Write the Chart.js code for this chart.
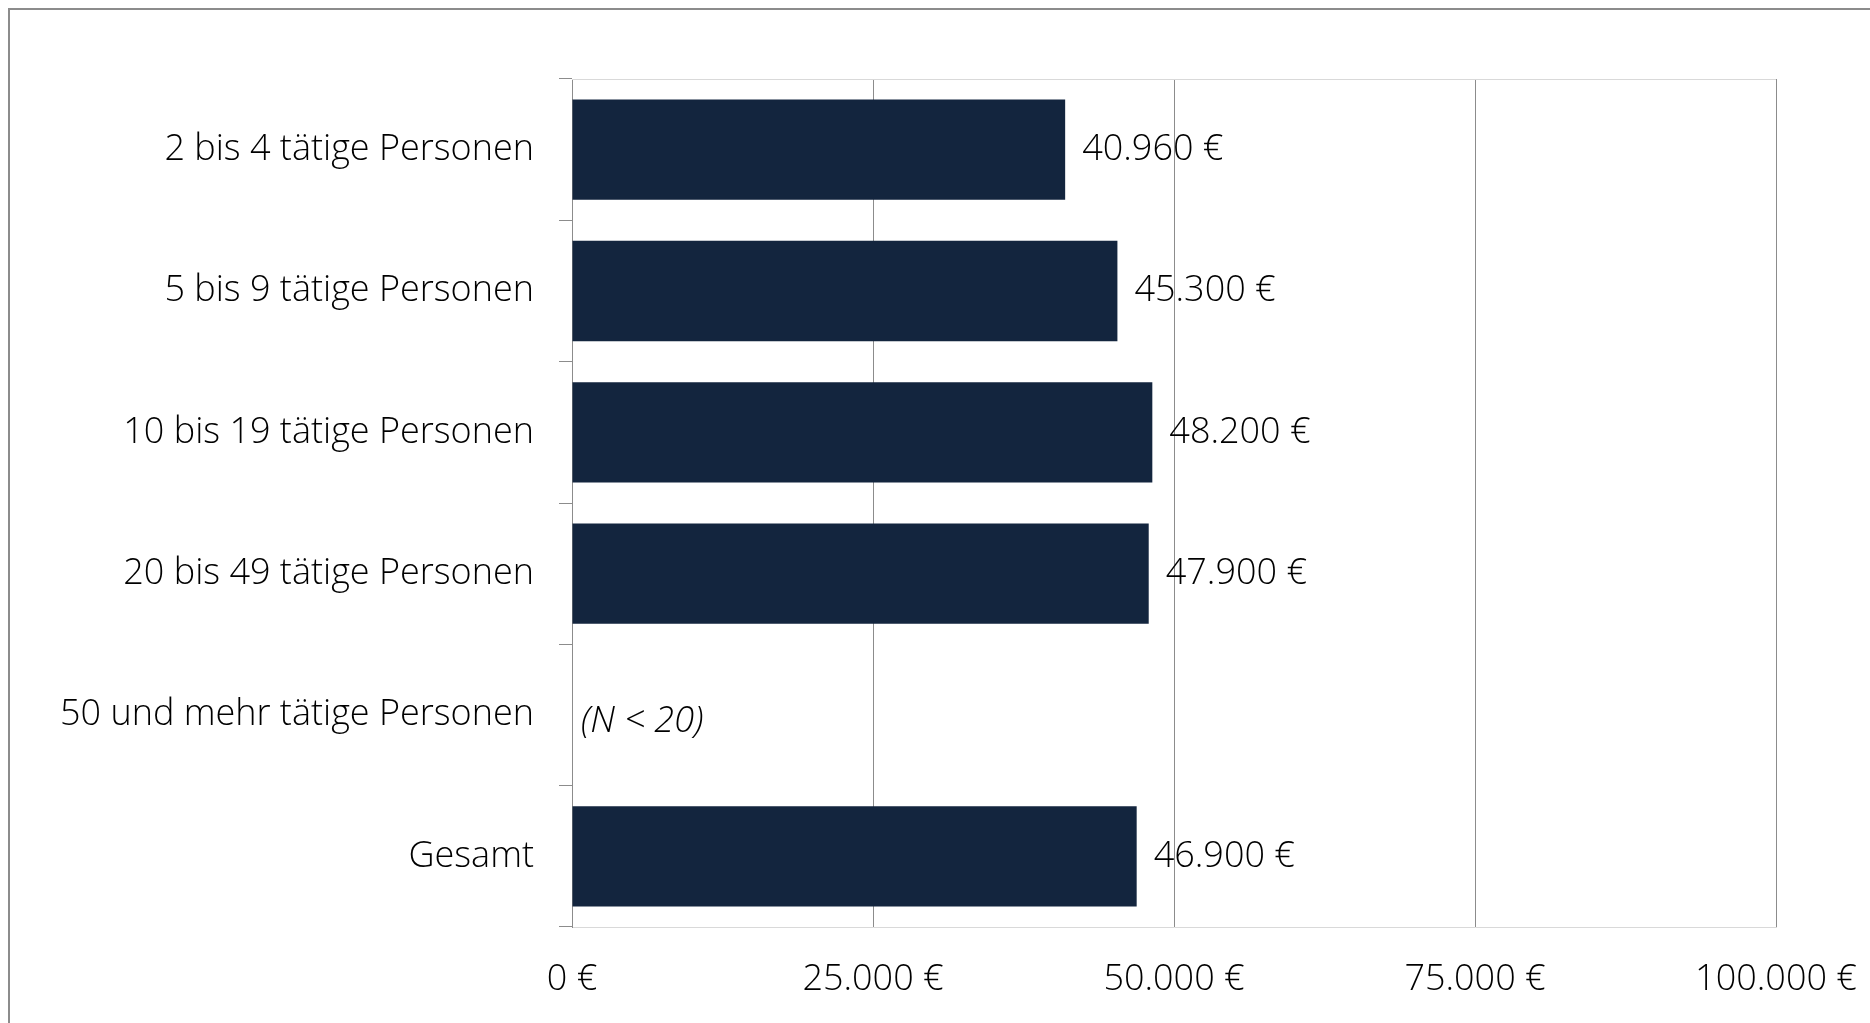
<!DOCTYPE html>
<html>
<head>
<meta charset="utf-8">
<script src="https://cdn.jsdelivr.net/npm/chart.js@4"></script>
<style>
  html, body { margin: 0; padding: 0; background: #fff; overflow: hidden; }
  #frame { position: absolute; left: 8px; top: 8px; width: 1900px; height: 1100px; border: 2px solid #8c8c8c; }
  #wrap { position: absolute; left: 0; top: 0; width: 1870px; height: 1023px; }
</style>
</head>
<body>
<div id="frame"></div>
<div id="wrap"><canvas id="chart"></canvas></div>
<script>
const categories = [
  "2 bis 4 tätige Personen",
  "5 bis 9 tätige Personen",
  "10 bis 19 tätige Personen",
  "20 bis 49 tätige Personen",
  "50 und mehr tätige Personen",
  "Gesamt"
];
const values = [40960, 45300, 48200, 47900, null, 46900];
const notes = ["", "", "", "", "(N < 20)", ""];
const xTicks = [0, 25000, 50000, 75000, 100000];

const FONT = "'Open Sans', sans-serif";
const SIZE = 36;

const euro = v => String(v).replace(/\B(?=(\d{3})+(?!\d))/g, ".") + " €";

// value labels right of the bars, the note for the empty row, top frame line
const labelsPlugin = {
  id: "labels",
  afterDatasetsDraw(chart) {
    const { ctx, chartArea } = chart;
    const meta = chart.getDatasetMeta(0);
    const yScale = chart.scales.y;
    ctx.save();
    ctx.strokeStyle = "#d9d9d9";
    ctx.lineWidth = 1;
    ctx.beginPath();
    ctx.moveTo(chartArea.left, chartArea.top + 0.5);
    ctx.lineTo(chartArea.right, chartArea.top + 0.5);
    ctx.stroke();

    ctx.fillStyle = "#000";
    ctx.textBaseline = "middle";
    ctx.textAlign = "left";
    meta.data.forEach((bar, i) => {
      if (values[i] != null) {
        ctx.font = "300 " + SIZE + "px " + FONT;
        ctx.fillText(euro(values[i]), bar.x + 17, bar.y);
      } else if (notes[i]) {
        ctx.font = "italic 300 " + SIZE + "px " + FONT;
        ctx.fillText(notes[i], chartArea.left + 9, yScale.getPixelForValue(i) + 7);
      }
    });
    ctx.restore();
  }
};

new Chart(document.getElementById("chart"), {
  type: "bar",
  data: {
    labels: categories,
    datasets: [{
      data: values,
      backgroundColor: "#13253e",
      categoryPercentage: 1,
      barPercentage: 0.71
    }]
  },
  options: {
    indexAxis: "y",
    responsive: true,
    maintainAspectRatio: false,
    animation: false,
    layout: { padding: { top: 79, right: 94, left: 0, bottom: 0 } },
    plugins: { legend: { display: false }, tooltip: { enabled: false } },
    scales: {
      x: {
        min: 0,
        max: 100000,
        afterBuildTicks: s => { s.ticks = xTicks.map(v => ({ value: v })); },
        afterFit: s => { s.height = 96; s.paddingLeft = 0; s.paddingRight = 0; },
        border: { color: "#d9d9d9", width: 1 },
        grid: { color: "#8c8c8c", lineWidth: 1, drawTicks: false },
        ticks: {
          padding: 31,
          color: "#000",
          font: { family: FONT, size: SIZE, weight: 300 },
          maxRotation: 0,
          callback: v => euro(v)
        }
      },
      y: {
        afterFit: s => { s.width = 572; s.paddingTop = 0; s.paddingBottom = 0; },
        border: { color: "#8c8c8c", width: 1 },
        grid: { drawOnChartArea: false, color: "#8c8c8c", tickLength: 13, offset: true },
        ticks: {
          padding: 25,
          color: "#000",
          font: { family: FONT, size: SIZE, weight: 300 }
        }
      }
    }
  },
  plugins: [labelsPlugin]
});
</script>
</body>
</html>
